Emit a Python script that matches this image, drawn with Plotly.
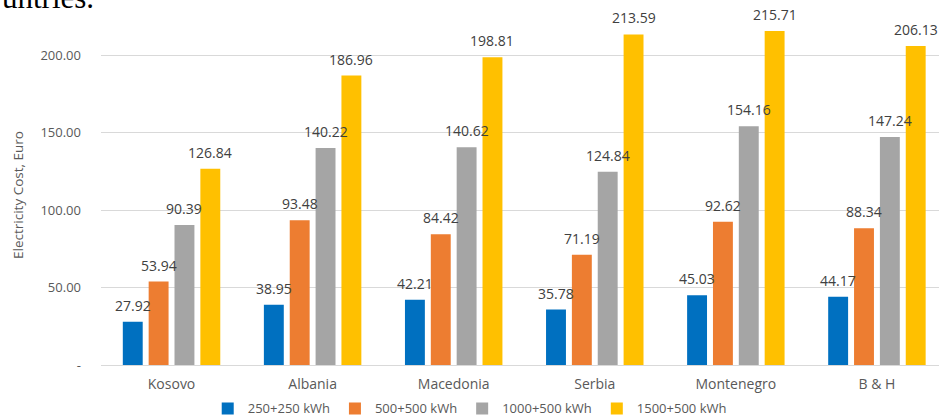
import plotly.graph_objects as go

# Electricity cost by country for four consumption bands
countries = ["Kosovo", "Albania", "Macedonia", "Serbia", "Montenegro", "B & H"]
band_names = ["250+250 kWh", "500+500 kWh", "1000+500 kWh", "1500+500 kWh"]
cost_250_250 = [27.92, 38.95, 42.21, 35.78, 45.03, 44.17]
cost_500_500 = [53.94, 93.48, 84.42, 71.19, 92.62, 88.34]
cost_1000_500 = [90.39, 140.22, 140.62, 124.84, 154.16, 147.24]
cost_1500_500 = [126.84, 186.96, 198.81, 213.59, 215.71, 206.13]
y_tick_vals = [0, 50, 100, 150, 200]
y_tick_text = ["-", "50.00", "100.00", "150.00", "200.00"]

series = [cost_250_250, cost_500_500, cost_1000_500, cost_1500_500]
colors = ["#0070C0", "#ED7D31", "#A5A5A5", "#FFC000"]

FONT = "Open Sans"
BARGAP = 0.267
BARGROUPGAP = 0.23

fig = go.Figure()
for name, vals, col in zip(band_names, series, colors):
    fig.add_trace(go.Bar(
        name=name, x=countries, y=vals,
        marker=dict(color=col, line=dict(width=0)),
    ))

# value labels centred over each bar of a group
n = len(series)
slot = (1 - BARGAP) / n
annotations = []
for k, vals in enumerate(series):
    for i, v in enumerate(vals):
        annotations.append(dict(
            x=i + (k - (n - 1) / 2) * slot, y=v, xref="x", yref="y",
            text=f"{v:.2f}", showarrow=False, yanchor="bottom", yshift=5,
            font=dict(family=FONT, size=14, color="#404040"),
        ))

# y-axis title
annotations.append(dict(
    x=-0.099, y=0.466, xref="paper", yref="paper", text="Electricity Cost, Euro",
    textangle=-90, showarrow=False, xanchor="center", yanchor="middle",
    font=dict(family=FONT, size=13.5, color="#595959"),
))
# tail of the preceding sentence in the document
annotations.append(dict(
    x=-0.1205, y=1, xref="paper", yref="paper", xanchor="left", yanchor="bottom",
    text="untries.", showarrow=False, yshift=-17,
    font=dict(family="Liberation Serif", size=31, color="#000000"),
))

fig.update_layout(
    width=939, height=418,
    margin=dict(l=101, r=0, t=0, b=52.5, autoexpand=False),
    paper_bgcolor="white", plot_bgcolor="white",
    barmode="group", bargap=BARGAP, bargroupgap=BARGROUPGAP,
    showlegend=True,
    legend=dict(orientation="h", x=0.44, xanchor="center", y=-0.119, yanchor="middle",
                font=dict(family=FONT, size=13, color="#595959"), traceorder="normal"),
    annotations=annotations,
)
fig.update_xaxes(
    range=[-0.5, 5.44], showgrid=False, showline=True, linecolor="#d9d9d9", linewidth=1,
    ticks="", ticklabelstandoff=6, automargin=False,
    tickfont=dict(family=FONT, size=14, color="#595959"),
)
fig.update_yaxes(
    range=[0, 235.8], tickvals=y_tick_vals, ticktext=y_tick_text,
    showgrid=True, gridcolor="#d9d9d9", gridwidth=1, zeroline=False, showline=False,
    ticks="", ticklabelstandoff=19, automargin=False,
    tickfont=dict(family=FONT, size=13, color="#595959"),
)

fig.write_html("out.html")
